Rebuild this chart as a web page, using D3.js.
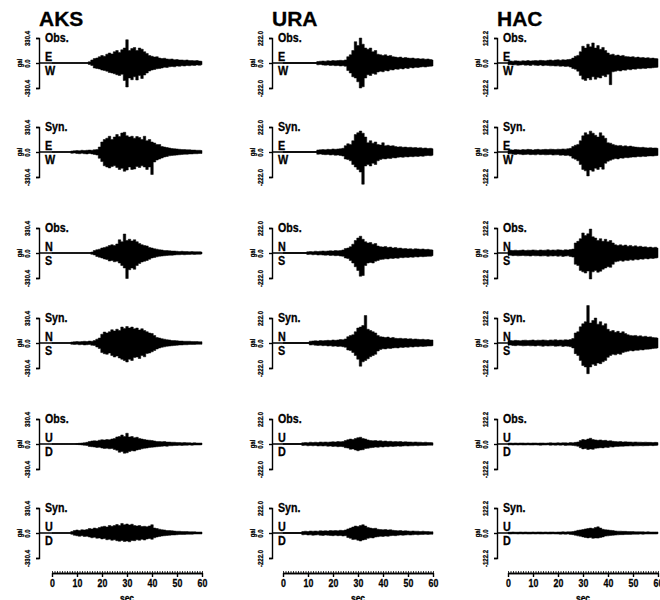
<!DOCTYPE html>
<html>
<head>
<meta charset="utf-8">
<script src="https://cdn.jsdelivr.net/npm/d3@7"></script>
<style>
  body { margin: 0; background: #fff; }
  svg { display: block; font-family: "Liberation Sans", Arial, Helvetica, sans-serif; }
  svg text { stroke: #000; stroke-width: 0.3px; }
</style>
</head>
<body>
<div id="chart"></div>
<script>
// Stations, axis full-scale values (gal) and row labels
const stations = ["AKS", "URA", "HAC"];
const fullScale = [330.4, 222.0, 122.2];
const rowKinds = ["Obs.", "Syn.", "Obs.", "Syn.", "Obs.", "Syn."];
const rowComps = [["E", "W"], ["E", "W"], ["N", "S"], ["N", "S"], ["U", "D"], ["U", "D"]];
const timeTicks = [0, 10, 20, 30, 40, 50, 60];
const times = d3.range(0, 61); // one sample per second, 0..60 sec

// Peak envelopes (gal), positive side (up) and negative side (dn)
// AKS
const aksObsEW_up = [3,3,3,3,3,3,3,3,3,3, 3,3,3,3,3,17,40,59,66,83, 99,89,116,132,119,149,165,139,175,198, 307,165,192,205,165,198,182,149,126,99, 89,79,83,66,59,63,53,50,53,43, 46,40,40,36,40,33,33,30,33,26, 23];
const aksObsEW_dn = [3,3,3,3,3,3,3,3,3,3, 3,3,3,3,3,20,33,66,73,79, 93,99,109,126,132,142,155,165,149,231, 317,198,221,182,225,165,205,159,132,106, 93,86,76,73,66,56,59,50,46,50, 40,43,36,40,33,36,30,33,26,30, 23];
const aksSynEW_up = [3,3,3,3,3,3,3,3,13,17, 20,17,23,20,23,26,23,30,33,66, 132,165,182,208,165,198,231,205,251,261, 215,198,208,182,205,192,165,208,149,165, 132,119,99,99,73,66,59,53,46,43, 40,36,33,33,30,30,26,26,23,23, 20];
const aksSynEW_dn = [3,3,3,3,3,3,3,3,17,13, 20,23,17,23,26,20,26,33,40,83, 126,182,198,211,192,182,205,231,215,254, 238,198,231,225,192,205,182,198,231,198, 297,132,106,93,79,66,59,50,46,43, 40,36,33,30,30,26,26,23,23,20, 20];
const aksObsNS_up = [3,3,3,3,3,3,3,3,3,3, 3,3,3,3,3,3,13,33,43,50, 66,73,83,99,109,99,119,175,149,251, 165,182,159,175,149,126,109,99,93,73, 66,56,50,43,40,33,33,30,26,26, 23,20,23,20,20,17,20,17,17,17, 13];
const aksObsNS_dn = [3,3,3,3,3,3,3,3,3,3, 3,3,3,3,3,3,17,26,46,56, 66,79,86,106,99,116,109,132,165,198, 337,221,198,215,165,139,119,109,99,83, 66,59,50,43,40,36,33,30,30,26, 23,23,20,23,20,20,17,20,17,17, 13];
const aksSynNS_up = [3,3,3,3,3,3,3,3,13,17, 20,17,20,23,20,26,23,33,50,66, 116,145,132,149,175,159,182,165,211,192, 218,198,211,188,198,172,188,165,149,132, 126,99,73,66,56,50,43,40,33,33, 30,26,26,23,23,23,20,20,20,17, 17];
const aksSynNS_dn = [3,3,3,3,3,3,3,3,17,20, 17,23,20,26,23,20,30,33,53,73, 126,142,149,132,165,185,172,198,215,231, 251,215,231,192,185,205,165,182,139,132, 116,99,79,66,56,50,43,40,36,33, 30,26,26,23,23,20,20,20,17,17, 17];
const aksObsUD_up = [3,3,3,3,3,3,3,3,3,3, 7,10,13,17,22,33,40,43,40,50, 56,53,59,56,66,73,93,99,119,99, 142,93,99,83,89,73,66,59,53,50, 46,40,33,33,30,33,26,26,23,23, 20,20,17,20,17,17,13,17,13,13, 13];
const aksObsUD_dn = [3,3,3,3,3,3,3,3,3,3, 7,9,13,17,20,33,36,40,46,43, 53,59,56,63,59,73,83,109,99,122, 116,99,89,93,79,73,63,56,53,46, 43,40,36,33,30,26,30,23,23,20, 20,17,20,17,17,13,17,13,13,13, 10];
const aksSynUD_up = [3,3,3,3,3,3,3,3,20,33, 40,33,43,40,46,59,53,66,59,73, 83,89,79,99,89,99,112,99,126,109, 119,106,116,99,93,99,86,89,83,93, 109,66,59,50,43,40,33,33,30,26, 23,23,20,20,20,17,17,17,13,13, 13];
const aksSynUD_dn = [3,3,3,3,3,3,3,3,17,30, 36,43,36,46,43,53,63,56,69,66, 79,73,89,83,96,89,102,109,99,112, 106,116,99,102,89,96,83,93,79,73, 83,63,53,46,40,36,33,30,26,26, 23,20,20,20,17,17,17,13,13,13, 13];
// URA
const uraObsEW_up = [4,4,4,4,4,4,4,4,4,4, 4,4,4,4,13,16,18,16,20,18, 22,20,22,24,22,27,56,73,111,189, 155,222,167,133,122,133,100,111,78,73, 67,73,62,67,56,53,49,53,44,49, 44,42,44,38,40,36,38,33,36,31, 27];
const uraObsEW_dn = [4,4,4,4,4,4,4,4,4,4, 4,4,4,4,16,13,18,20,18,22, 20,24,22,27,24,29,67,89,122,133, 167,222,211,133,104,111,93,100,80,73, 78,67,71,60,62,53,56,49,53,44, 49,40,44,38,40,36,33,36,31,29, 27];
const uraSynEW_up = [4,4,4,4,4,4,4,4,4,4, 4,4,4,4,18,20,22,20,24,22, 27,24,27,29,33,56,73,67,100,155, 171,186,167,133,82,100,78,89,67,62, 82,56,60,53,56,49,44,47,42,44, 40,42,38,40,36,38,33,36,31,33, 29];
const uraSynEW_dn = [4,4,4,4,4,4,4,4,4,4, 4,4,4,4,20,18,22,24,22,27, 24,29,27,31,36,62,67,78,111,133, 155,178,286,124,111,124,100,111,78,67, 60,62,56,58,51,53,47,44,47,42, 44,40,42,38,40,36,38,33,31,33, 29];
const uraObsNS_up = [4,4,4,4,4,4,4,4,4,4, 11,13,11,16,13,16,18,16,18,20, 18,22,20,22,27,40,44,56,78,111, 133,149,122,100,89,93,78,84,62,56, 53,58,49,53,44,49,42,44,38,40, 36,38,33,38,36,33,36,31,33,29, 27];
const uraObsNS_dn = [4,4,4,4,4,4,4,4,4,4, 13,11,16,13,18,16,18,20,18,22, 20,24,22,27,29,44,49,67,89,122, 155,206,200,111,89,84,89,73,67,58, 56,51,53,47,49,44,47,40,42,38, 40,36,38,33,36,31,33,31,29,29, 24];
const uraSynNS_up = [4,4,4,4,4,4,4,4,4,4, 4,16,18,20,18,22,20,22,24,22, 27,24,27,31,29,36,56,67,73,100, 133,142,155,244,122,111,100,89,67,56, 53,49,53,44,49,42,40,42,38,40, 36,38,33,36,33,31,33,29,31,27, 27];
const uraSynNS_dn = [4,4,4,4,4,4,4,4,4,4, 4,18,16,20,22,20,24,22,27,24, 29,27,31,29,33,38,62,67,84,111, 144,206,167,155,140,122,111,100,71,58, 51,53,47,49,44,42,44,38,40,36, 38,33,36,31,33,29,31,29,27,27, 24];
const uraObsUD_up = [4,4,4,4,4,4,4,4,11,13, 11,16,13,16,13,18,16,18,16,18, 20,18,22,20,22,31,38,44,40,49, 56,60,49,44,36,31,29,31,27,29, 24,27,22,24,20,22,20,22,18,20, 18,18,16,18,16,16,13,16,13,13, 11];
const uraObsUD_dn = [4,4,4,4,4,4,4,4,13,11, 16,13,16,13,18,16,18,16,20,18, 22,20,24,22,24,33,36,47,44,53, 60,53,51,40,38,33,31,27,29,24, 27,22,24,20,22,20,18,20,18,16, 18,16,16,13,16,13,13,13,11,11, 11];
const uraSynUD_up = [4,4,4,4,4,4,4,4,13,16, 13,18,16,18,16,20,18,20,18,22, 20,22,20,24,22,27,36,44,53,62, 58,67,73,62,49,44,40,42,33,31, 29,31,27,29,24,22,20,22,18,20, 18,16,18,16,16,13,16,13,13,11, 11];
const uraSynUD_dn = [4,4,4,4,4,4,4,4,16,13, 18,16,20,18,16,20,22,18,20,22, 24,20,24,22,27,24,40,47,58,56, 64,71,62,58,47,42,44,36,33,29, 31,27,29,24,22,24,20,18,20,18, 16,18,16,13,16,13,13,11,13,11, 11];
// HAC
const hacObsEW_up = [7,10,9,11,10,9,11,10,12,10, 11,12,11,13,12,11,13,15,12,15, 16,13,16,15,17,18,24,33,37,55, 82,73,92,79,98,73,85,67,76,61, 49,40,43,37,39,34,37,32,31,29, 31,27,29,26,27,24,26,23,24,22, 21];
const hacObsEW_dn = [9,8,10,9,11,10,8,11,10,12, 9,11,12,10,13,11,12,14,13,15, 14,16,15,17,16,20,27,30,40,61, 79,85,73,82,67,79,70,73,61,67, 55,106,43,40,37,39,34,35,31,33, 29,30,27,28,26,27,24,25,23,22, 21];
const hacSynEW_up = [9,11,10,12,11,10,12,11,13,12, 10,12,13,11,12,13,12,14,13,12, 14,13,15,14,16,18,27,33,37,55, 79,94,85,102,92,82,73,94,79,67, 45,43,37,33,30,32,28,30,27,29, 26,24,23,22,23,21,20,21,19,20, 18];
const hacSynEW_dn = [10,9,11,12,10,11,13,12,11,13, 12,14,11,13,12,14,13,12,15,14, 13,16,15,17,16,20,30,35,43,61, 85,92,117,88,94,79,85,73,84,55, 45,40,35,32,34,29,30,27,28,26, 24,25,22,23,21,22,20,19,20,18, 17];
const hacObsNS_up = [11,13,12,14,12,13,15,12,14,13, 15,14,12,15,13,14,16,13,15,14, 16,15,13,16,15,17,19,49,57,70, 98,85,94,117,79,73,61,70,57,67, 55,61,49,40,37,40,35,39,33,37, 32,35,30,33,29,30,27,29,26,28, 24];
const hacObsNS_dn = [12,11,13,12,14,13,12,14,13,15, 12,14,13,15,14,13,16,14,15,13, 16,14,17,15,14,17,20,55,61,85, 92,98,88,127,92,85,94,89,79,73, 67,70,55,43,40,37,40,35,37,33, 35,31,33,29,30,27,29,26,27,25, 23];
const hacSynNS_up = [10,12,11,13,12,11,13,14,12,13, 15,12,14,13,15,14,12,15,14,16, 13,15,14,16,15,17,22,49,55,79, 94,104,183,98,110,122,92,104,85,94, 67,57,61,52,57,49,55,46,40,37, 35,37,33,35,31,33,29,30,27,26, 24];
const hacSynNS_dn = [11,10,12,13,11,12,14,13,12,14, 13,15,12,14,16,13,15,14,13,16, 15,14,17,15,16,18,24,52,61,85, 110,117,150,117,104,110,98,101,92,85, 70,61,55,58,52,55,46,43,40,37, 39,35,36,33,34,31,30,29,27,26, 24];
const hacObsUD_up = [4,5,4,5,4,5,5,4,5,4, 5,5,4,5,5,4,5,6,5,5, 6,5,6,6,5,7,6,8,10,17, 22,20,24,28,22,20,18,20,17,18, 15,16,13,12,11,12,10,11,10,10, 9,10,9,9,8,9,8,8,7,8, 7];
const hacObsUD_dn = [5,4,5,4,5,4,5,5,4,5, 5,4,5,6,5,5,4,6,5,6, 5,6,5,7,6,6,7,9,11,18, 24,22,27,24,26,21,20,18,19,16, 17,14,15,12,12,11,11,10,10,9, 10,9,9,8,9,8,8,7,8,7, 6];
const hacSynUD_up = [4,4,5,4,4,5,4,5,4,4, 5,4,5,5,4,5,4,5,5,4, 5,5,6,5,6,6,7,10,13,15, 17,20,22,24,22,27,30,24,18,16, 15,13,12,10,9,9,8,8,7,7, 7,6,6,6,6,5,6,5,5,5, 5];
const hacSynUD_dn = [4,5,4,4,5,4,5,4,5,5, 4,5,4,5,5,4,5,5,4,5, 5,6,5,6,5,7,8,11,14,16, 19,22,24,22,26,24,25,22,19,15, 14,12,11,10,9,8,8,7,7,7, 6,6,6,5,6,5,5,5,5,5, 4];

// traces[column][row] = [up, dn]
const traces = [
  [[aksObsEW_up, aksObsEW_dn], [aksSynEW_up, aksSynEW_dn], [aksObsNS_up, aksObsNS_dn],
   [aksSynNS_up, aksSynNS_dn], [aksObsUD_up, aksObsUD_dn], [aksSynUD_up, aksSynUD_dn]],
  [[uraObsEW_up, uraObsEW_dn], [uraSynEW_up, uraSynEW_dn], [uraObsNS_up, uraObsNS_dn],
   [uraSynNS_up, uraSynNS_dn], [uraObsUD_up, uraObsUD_dn], [uraSynUD_up, uraSynUD_dn]],
  [[hacObsEW_up, hacObsEW_dn], [hacSynEW_up, hacSynEW_dn], [hacObsNS_up, hacObsNS_dn],
   [hacSynNS_up, hacSynNS_dn], [hacObsUD_up, hacObsUD_dn], [hacSynUD_up, hacSynUD_dn]]
];

// Layout
const width = 660, height = 600;
const colAxisX = [39, 272, 497];
const colPlot = [[52, 202], [283, 433], [508, 658]];
const rowMid = [63, 152, 253, 343, 444, 533];
const halfH = 25;
const xAxisY = 573;

const svg = d3.select("#chart").append("svg")
  .attr("width", width)
  .attr("height", height);

// text helper, squeezed horizontally like the printed figure
function label(g, x, y, txt, size, sx) {
  g.append("text")
    .attr("transform", `translate(${x},${y}) scale(${sx},1)`)
    .attr("font-size", size)
    .attr("font-weight", "bold")
    .attr("fill", "#000")
    .text(txt);
}

stations.forEach((name, c) => {
  const col = svg.append("g").attr("class", "station");
  const ax = colAxisX[c];
  const s = fullScale[c];
  const x = d3.scaleLinear().domain([0, 60]).range(colPlot[c]);

  label(col, ax, 26, name, 21, 1);

  rowMid.forEach((mid, r) => {
    const y = d3.scaleLinear().domain([-s, s]).range([mid + halfH, mid - halfH]);
    const [up, dn] = traces[c][r];
    const panel = col.append("g");

    // y axis bracket
    const yAxis = panel.append("g")
      .attr("transform", `translate(${ax},0)`)
      .call(d3.axisLeft(y).tickValues([s, 0, -s]).tickSize(3).tickSizeOuter(3)
        .tickFormat(d => d.toFixed(1)));
    yAxis.select(".domain").attr("stroke-width", 1.4);
    yAxis.selectAll(".tick line").attr("stroke-width", 1.4);
    yAxis.selectAll(".tick text")
      .attr("transform", "rotate(-90) scale(0.75,1)")
      .attr("x", 0).attr("y", -9).attr("dy", 0)
      .attr("text-anchor", "middle")
      .attr("font-size", 8).attr("font-weight", "bold")
      .attr("font-family", "Liberation Sans, Arial, sans-serif");

    panel.append("text")
      .attr("transform", `translate(${ax - 17},${mid}) rotate(-90) scale(0.75,1)`)
      .attr("text-anchor", "middle")
      .attr("font-size", 8).attr("font-weight", "bold")
      .text("gal");

    // zero line
    panel.append("line")
      .attr("x1", ax).attr("x2", x(60))
      .attr("y1", y(0)).attr("y2", y(0))
      .attr("stroke", "#000").attr("stroke-width", 1.6);

    // waveform envelope, drawn as steps so peaks stand up like spikes
    const area = d3.area()
      .curve(d3.curveStep)
      .x(d => x(d))
      .y0(d => y(-dn[d]))
      .y1(d => y(up[d]));
    panel.append("path")
      .datum(times)
      .attr("d", area)
      .attr("fill", "#000")
      .attr("stroke", "#000")
      .attr("stroke-width", 0.5);

    label(panel, ax + 6, mid - 21, rowKinds[r], 13, 0.82);
    label(panel, ax + 6, mid - 2, rowComps[r][0], 12, 0.9);
    label(panel, ax + 6, mid + 12, rowComps[r][1], 12, 0.9);
  });

  // time axis: minor ticks each second, labelled ticks every 10 sec
  const xg = col.append("g").attr("transform", `translate(0,${xAxisY})`);
  xg.call(d3.axisBottom(x).ticks(60).tickSize(-2).tickSizeOuter(0).tickFormat(""))
    .selectAll(".tick line").attr("stroke-width", 0.8);
  xg.select(".domain").attr("stroke-width", 1.4);
  const xMajor = col.append("g").attr("transform", `translate(0,${xAxisY})`)
    .call(d3.axisBottom(x).tickValues(timeTicks).tickSize(4).tickSizeOuter(0));
  xMajor.select(".domain").attr("stroke-width", 1.4);
  xMajor.selectAll(".tick line").attr("stroke-width", 1.4);
  xMajor.selectAll(".tick text")
    .attr("font-size", 11).attr("font-weight", "bold")
    .attr("font-family", "Liberation Sans, Arial, sans-serif")
    .attr("y", 6)
    .attr("transform", "scale(0.8,1)");

  col.append("text")
    .attr("transform", `translate(${x(30)},602) scale(0.85,1)`)
    .attr("text-anchor", "middle")
    .attr("font-size", 10).attr("font-weight", "bold")
    .text("sec");
});
</script>
</body>
</html>
